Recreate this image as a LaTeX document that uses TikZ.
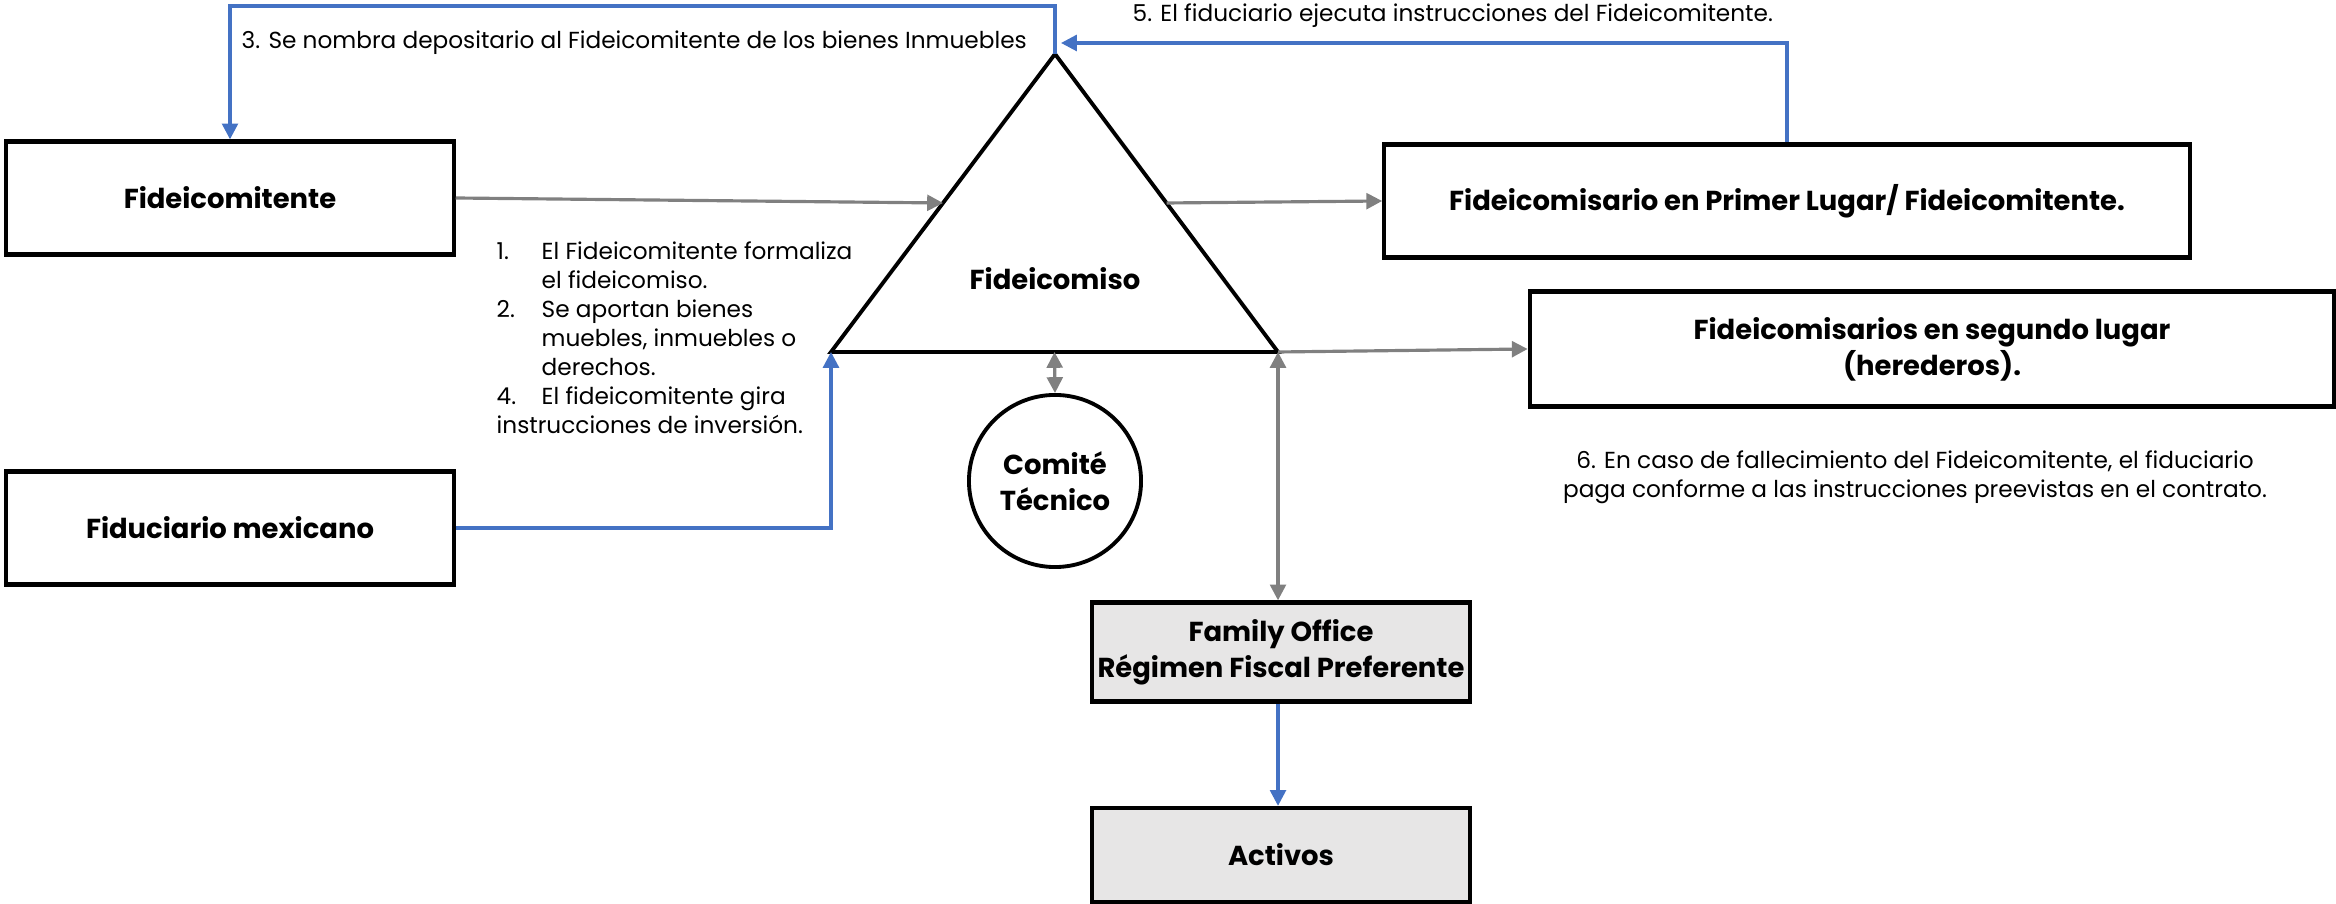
\documentclass[tikz,border=0pt]{standalone}
\usepackage{fontspec}
\setmainfont{Poppins}
\usetikzlibrary{arrows.meta,calc}
\definecolor{azul}{HTML}{4472C4}
\definecolor{gris}{HTML}{808080}
\definecolor{relleno}{HTML}{E7E6E6}
\begin{document}
\begin{tikzpicture}[x=0.01cm,y=-0.01cm,
  caja/.style={draw,line width=1.2pt,align=center,inner sep=0pt,
    font=\fontsize{7.8}{10.2}\selectfont\bfseries},
  flecha/.style={draw=gris,line width=0.9pt,-{Triangle[width=4.5pt,length=4.5pt]}},
  doble/.style={draw=gris,line width=0.9pt,{Triangle[width=4.5pt,length=4.5pt]}-{Triangle[width=4.5pt,length=4.5pt]}},
  azulf/.style={draw=azul,line width=0.9pt,-{Triangle[width=4.5pt,length=4.5pt]}},
  nota/.style={font=\fontsize{6.6}{8.25}\selectfont,inner sep=0pt}]
\useasboundingbox (0,0) rectangle (2336,904);
% cajas
\node[caja,minimum width=4.47cm,minimum height=1.13cm] (fideicomitente) at (230,198) {Fideicomitente};
\node[caja,minimum width=4.47cm,minimum height=1.13cm] (fiduciario) at (230,528) {Fiduciario mexicano};
\node[caja,minimum width=8.05cm,minimum height=1.13cm] (primero) at (1787,201) {Fideicomisario en Primer Lugar/ Fideicomitente.};
\node[caja,minimum width=8.04cm,minimum height=1.15cm] (segundo) at (1932,349) {Fideicomisarios en segundo lugar\\(herederos).};
\node[caja,fill=relleno,minimum width=3.78cm,minimum height=0.99cm] (family) at (1281,652) {Family Office\\Régimen Fiscal Preferente};
\node[caja,fill=relleno,minimum width=3.78cm,minimum height=0.94cm] (activos) at (1281,855) {Activos};
\node[caja,circle,line width=1.1pt,minimum size=1.72cm] (comite) at (1055,481) {Comité\\Técnico};
% triangulo
\coordinate (cima) at (1055,54);
\coordinate (izq) at (831,352);
\coordinate (der) at (1278,352);
\draw[line width=1.1pt] (cima) -- (izq) -- (der) -- cycle;
\node[font=\fontsize{7.8}{10.2}\selectfont\bfseries] (fideicomiso) at (1055,279) {Fideicomiso};
% conectores
\draw[flecha] (fideicomitente.east) -- ($(izq)!0.5!(cima)$);
\draw[flecha] ($(der)!0.5!(cima)$) -- (primero.west);
\draw[flecha] (der) -- (segundo.west);
\draw[doble] ($(izq)!0.5!(der)$) -- (comite.north);
\draw[doble] (der) -- (der |- family.north);
\draw[azulf] (der |- family.south) -- (der |- activos.north);
\draw[azulf] (fiduciario.east) -| (izq);
\coordinate (arriba) at (1055,6);
\draw[azulf] (cima) -- (arriba) -| (fideicomitente.north);
\coordinate (retorno) at (1061,43);
\draw[azulf] (primero.north) |- (retorno);
% textos
\node[nota,anchor=west] (paso3) at (241,43) {3. Se nombra depositario al Fideicomitente de los bienes Inmuebles};
\node[nota,anchor=west] (paso5) at (1132,16) {5. El fiduciario ejecuta instrucciones del Fideicomitente.};
\node[nota,align=center] (paso6) at (1915,477) {6. En caso de fallecimiento del Fideicomitente, el fiduciario\\paga conforme a las instrucciones preevistas en el contrato.};
\node[nota,anchor=north west] (pasos) at (496,238) {\begin{tabular}{@{}p{12.8pt}@{}l@{}}
1. & El Fideicomitente formaliza\\
   & el fideicomiso.\\
2. & Se aportan bienes\\
   & muebles, inmuebles o\\
   & derechos.\\
4. & El fideicomitente gira\\
\multicolumn{2}{@{}l@{}}{instrucciones de inversión.}
\end{tabular}};
\end{tikzpicture}
\end{document}
